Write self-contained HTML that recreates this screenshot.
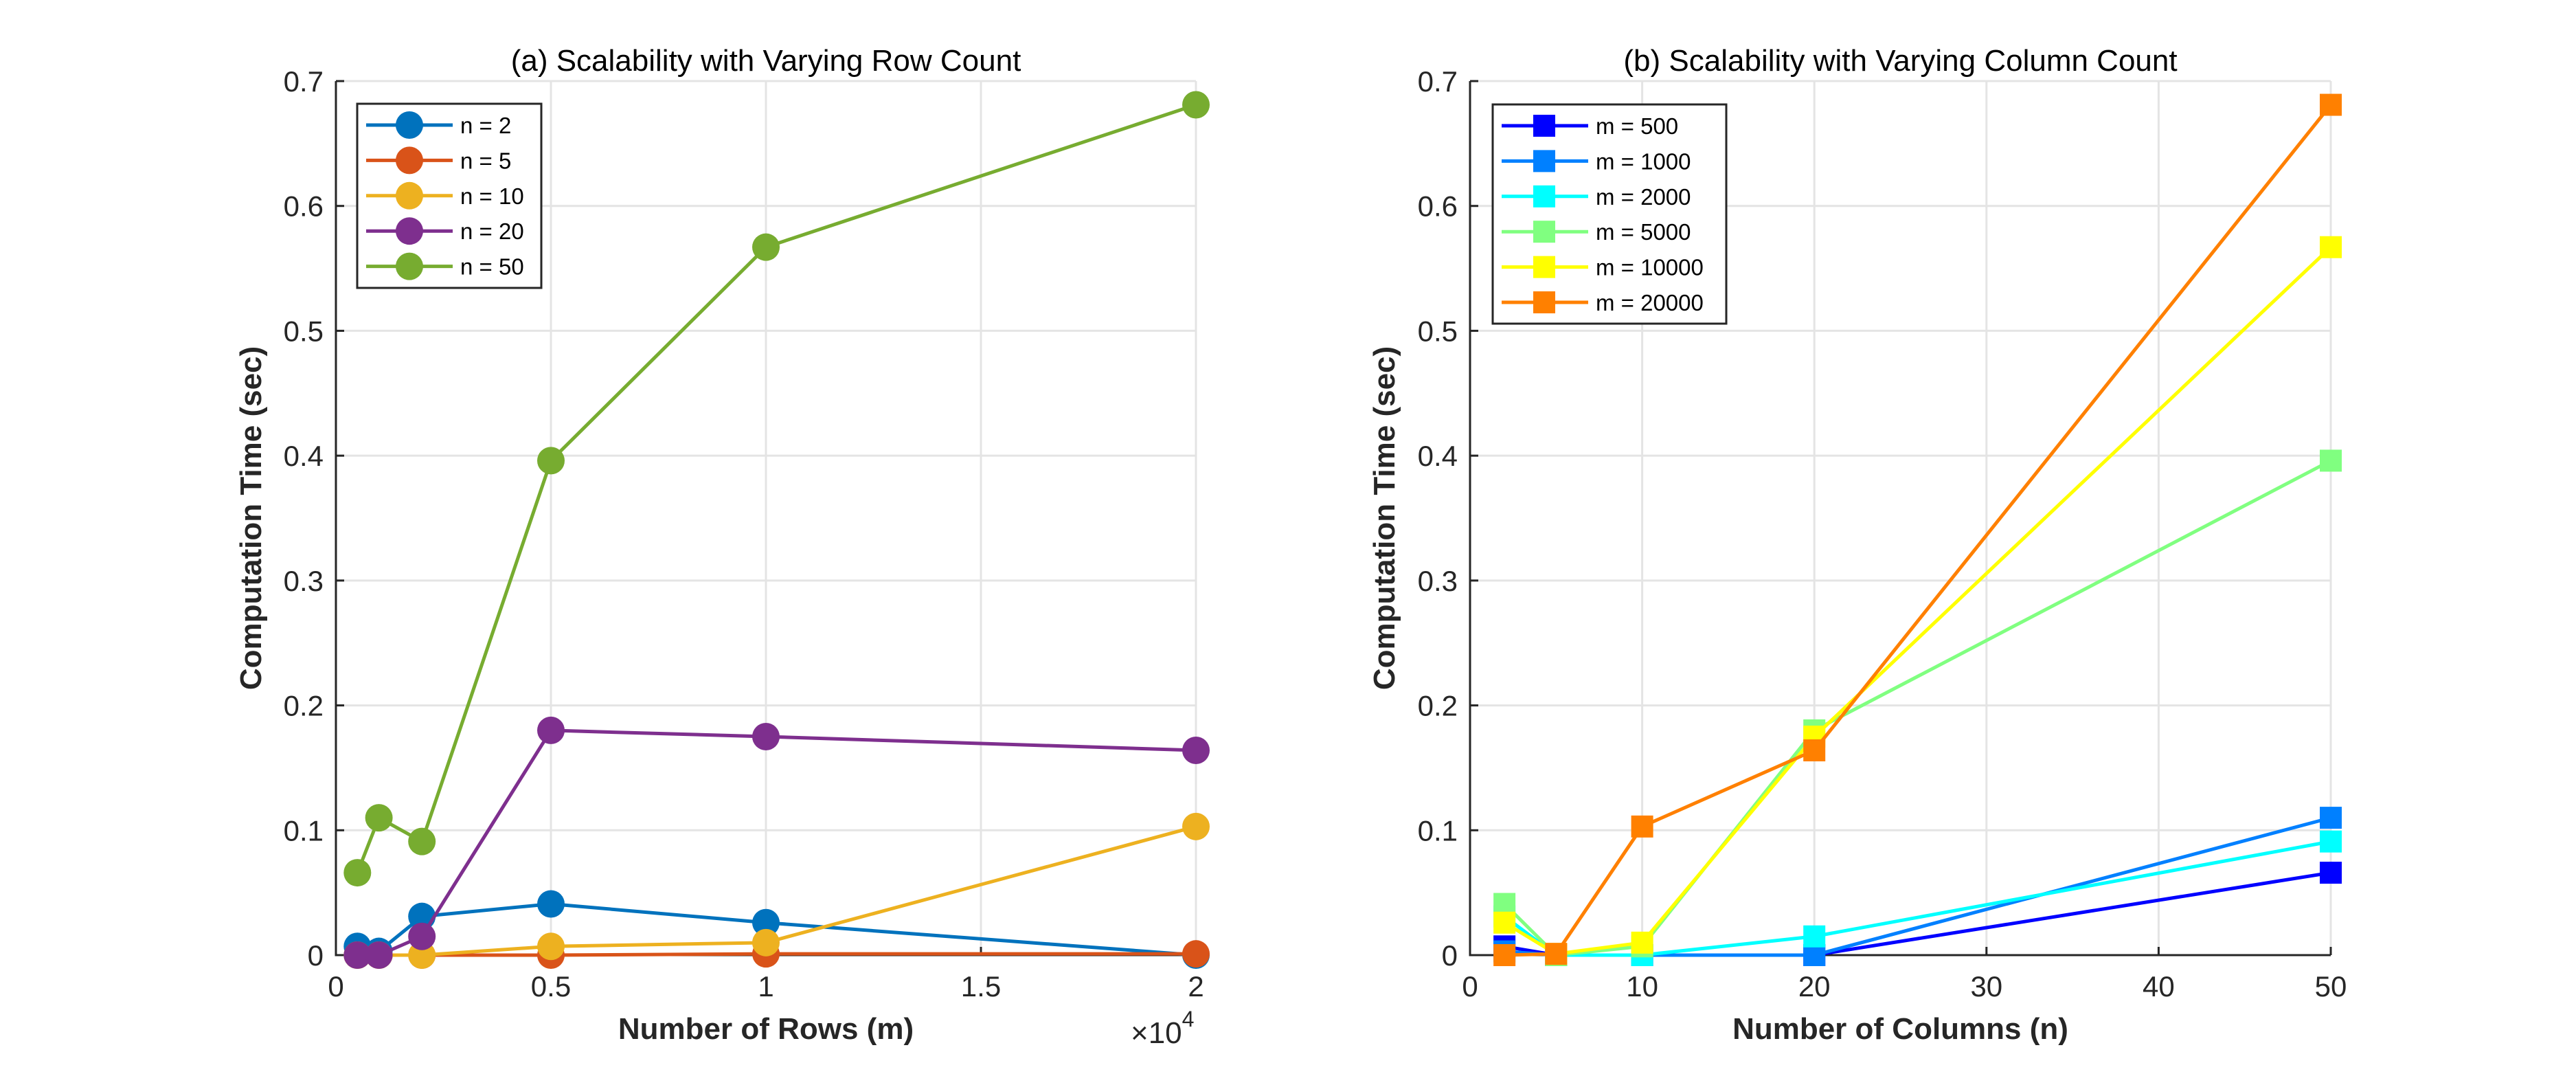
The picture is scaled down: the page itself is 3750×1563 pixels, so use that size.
<!DOCTYPE html>
<html><head><meta charset="utf-8">
<style>
html,body{margin:0;padding:0;background:#fff;}
svg{display:block;font-family:"Liberation Sans",Arial,sans-serif;}
</style></head>
<body>
<svg id="fig" width="3750" height="1563" viewBox="0 0 3750 1563" xmlns="http://www.w3.org/2000/svg">
<rect width="3750" height="1563" fill="#fff"/>
<g id="pa"></g>
<g id="pb"></g>
</svg>
<script>
// Panel (a) data
const rowCounts = [500, 1000, 2000, 5000, 10000, 20000];
const aLabels = ["n = 2", "n = 5", "n = 10", "n = 20", "n = 50"];
const aN2  = [0.007, 0.003, 0.031, 0.041, 0.026, 0.000];
const aN5  = [0.000, 0.000, 0.000, 0.000, 0.001, 0.001];
const aN10 = [0.000, 0.000, 0.000, 0.007, 0.010, 0.103];
const aN20 = [0.000, 0.000, 0.015, 0.180, 0.175, 0.164];
const aN50 = [0.066, 0.110, 0.091, 0.396, 0.567, 0.681];
const aXTicks = [0, 5000, 10000, 15000, 20000];
const aXTickLabels = ["0", "0.5", "1", "1.5", "2"];
// Panel (b) data
const colCounts = [2, 5, 10, 20, 50];
const bLabels = ["m = 500", "m = 1000", "m = 2000", "m = 5000", "m = 10000", "m = 20000"];
const bM500   = [0.007, 0.000, 0.000, 0.000, 0.066];
const bM1000  = [0.003, 0.000, 0.000, 0.000, 0.110];
const bM2000  = [0.031, 0.000, 0.000, 0.015, 0.091];
const bM5000  = [0.041, 0.000, 0.007, 0.180, 0.396];
const bM10000 = [0.026, 0.001, 0.010, 0.175, 0.567];
const bM20000 = [0.000, 0.001, 0.103, 0.164, 0.681];
const bXTicks = [0, 10, 20, 30, 40, 50];
const bXTickLabels = ["0", "10", "20", "30", "40", "50"];
const yTicks = [0, 0.1, 0.2, 0.3, 0.4, 0.5, 0.6, 0.7];
const yTickLabels = ["0", "0.1", "0.2", "0.3", "0.4", "0.5", "0.6", "0.7"];

const NS = "http://www.w3.org/2000/svg";
function mk(parent, tag, attrs, text) {
  const e = document.createElementNS(NS, tag);
  for (const k in attrs) e.setAttribute(k, attrs[k]);
  if (text !== undefined) e.textContent = text;
  parent.appendChild(e);
  return e;
}

function panel(g, cfg) {
  const L = cfg.L, R = cfg.R, T = 118, B = 1390;
  const xs = v => L + (v - cfg.xmin) / (cfg.xmax - cfg.xmin) * (R - L);
  const ys = v => B - v / 0.7 * (B - T);
  // grid
  cfg.xTicks.forEach(t => {
    if (t === cfg.xmin) return;
    const l = mk(g, "line", {x1: xs(t), x2: xs(t), y1: T, y2: B, stroke: "#e4e4e4", "stroke-width": 3});
    
    
  });
  yTicks.forEach(t => {
    if (t === 0) return;
    const l = mk(g, "line", {x1: L, x2: R, y1: ys(t), y2: ys(t), stroke: "#e4e4e4", "stroke-width": 3});
    
    
  });
  // axes
  const ax = mk(g, "path", {d: `M${L} ${T} L${L} ${B} L${R} ${B}`, fill: "none", stroke: "#262626", "stroke-width": 3});
  
  
  // ticks
  cfg.xTicks.forEach((t, i) => {
    const x = xs(t);
    mk(g, "line", {x1: x, x2: x, y1: B, y2: B - 12, stroke: "#262626", "stroke-width": 3});
    const tx = mk(g, "text", {x: x, y: 1450, "font-size": 42, fill: "#262626", "text-anchor": "middle"}, cfg.xTickLabels[i]);
    
    
  });
  yTicks.forEach((t, i) => {
    const y = ys(t);
    mk(g, "line", {x1: L, x2: L + 12, y1: y, y2: y, stroke: "#262626", "stroke-width": 3});
    const tx = mk(g, "text", {x: L - 18, y: y + 15, "font-size": 42, fill: "#262626", "text-anchor": "end"}, yTickLabels[i]);
    
    
  });
  // titles
  const ti = mk(g, "text", {x: (L + R) / 2, y: 103, "font-size": 44, fill: "#000", "text-anchor": "middle"}, cfg.title);
  
  
  const xl = mk(g, "text", {x: (L + R) / 2, y: 1512, "font-size": 44, "font-weight": "bold", fill: "#262626", "text-anchor": "middle"}, cfg.xlabel);
  
  
  const yl = mk(g, "text", {x: 0, y: 0, "font-size": 44, "font-weight": "bold", fill: "#262626", "text-anchor": "middle", transform: `translate(${cfg.ylx},${(T + B) / 2}) rotate(-90)`}, "Computation Time (sec)");
  
  
  // series
  cfg.series.forEach((s, si) => {
    const sg = mk(g, "g", {});
    
    
    const pts = s.map((v, i) => xs(cfg.xvals[i]) + "," + ys(v)).join(" ");
    const pl = mk(sg, "polyline", {points: pts, fill: "none", stroke: cfg.colors[si], "stroke-width": 5, "stroke-linejoin": "round"});
    
    
    s.forEach((v, i) => {
      const cx = xs(cfg.xvals[i]), cy = ys(v);
      let m;
      if (cfg.marker === "circle") m = mk(sg, "circle", {cx: cx, cy: cy, r: 20, fill: cfg.colors[si]});
      else m = mk(sg, "rect", {x: cx - 16, y: cy - 16, width: 32, height: 32, fill: cfg.colors[si]});
      
      
    });
  });
  // legend
  const lg = mk(g, "g", {});
  
  
  const lb = cfg.legend;
  mk(lg, "rect", {x: lb.x, y: lb.y, width: lb.w, height: lb.h, fill: "#fff", stroke: "#262626", "stroke-width": 3});
  cfg.labels.forEach((lab, i) => {
    const e = mk(lg, "g", {});
    
    
    const y = lb.y + 31 + i * 51.4;
    mk(e, "line", {x1: lb.x + 13, x2: lb.x + 139, y1: y, y2: y, stroke: cfg.colors[i], "stroke-width": 5});
    if (cfg.marker === "circle") mk(e, "circle", {cx: lb.x + 76, cy: y, r: 20, fill: cfg.colors[i]});
    else mk(e, "rect", {x: lb.x + 59, y: y - 16, width: 32, height: 32, fill: cfg.colors[i]});
    mk(e, "text", {x: lb.x + 150, y: y + 12, "font-size": 33, fill: "#000"}, lab);
  });
}

const ga = document.getElementById("pa");
panel(ga, {
  L: 489, R: 1741, xmin: 0, xmax: 20000, xTicks: aXTicks, xTickLabels: aXTickLabels,
  xvals: rowCounts, series: [aN2, aN5, aN10, aN20, aN50], labels: aLabels,
  colors: ["#0072BD", "#D95319", "#EDB120", "#7E2F8E", "#77AC30"], marker: "circle",
  title: "(a) Scalability with Varying Row Count", xlabel: "Number of Rows (m)", ylx: 380,
  legend: {x: 520, y: 151, w: 268, h: 268}
});
const ex = mk(ga, "text", {x: 1646, y: 1518, "font-size": 44, fill: "#262626"}, "×10");


mk(ex, "tspan", {dy: -24, "font-size": 32}, "4");

panel(document.getElementById("pb"), {
  L: 2140, R: 3393, xmin: 0, xmax: 50, xTicks: bXTicks, xTickLabels: bXTickLabels,
  xvals: colCounts, series: [bM500, bM1000, bM2000, bM5000, bM10000, bM20000], labels: bLabels,
  colors: ["#0000FF", "#0080FF", "#00FFFF", "#80FF80", "#FFFF00", "#FF8000"], marker: "square",
  title: "(b) Scalability with Varying Column Count", xlabel: "Number of Columns (n)", ylx: 2030,
  legend: {x: 2173, y: 152, w: 340, h: 319}
});
</script>
</body></html>
